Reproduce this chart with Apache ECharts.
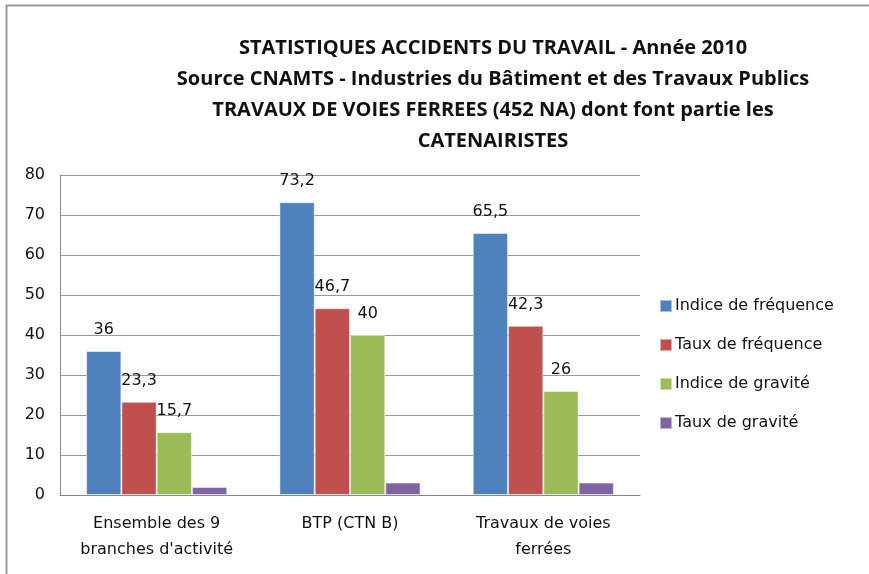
<!DOCTYPE html>
<html>
<head>
<meta charset="utf-8">
<script src="https://cdn.jsdelivr.net/npm/echarts@6/dist/echarts.min.js"></script>
<style>
  html, body { margin: 0; padding: 0; background: #fff; }
  #chart { width: 869px; height: 574px; }
</style>
</head>
<body>
<div id="chart"></div>
<script>
// données
var categories = ['Ensemble des 9\nbranches d\'activité', 'BTP (CTN B)', 'Travaux de voies\nferrées'];
var seriesNames = ['Indice de fréquence', 'Taux de fréquence', 'Indice de gravité', 'Taux de gravité'];
var indiceFrequence = [36, 73.2, 65.5];
var tauxFrequence = [23.3, 46.7, 42.3];
var indiceGravite = [15.7, 40, 26];
var tauxGravite = [2, 3.1, 3.1];
var colors = ['#4F81BD', '#C0504D', '#9BBB59', '#8064A2'];

var titleFont = '"Open Sans", "Liberation Sans", sans-serif';
var bodyFont = '"DejaVu Sans", "Open Sans", sans-serif';

function mkSeries (name, data, color, showLabel) {
  return {
    name: name,
    type: 'bar',
    data: data,
    barGap: '0%',
    barCategoryGap: '27%',
    itemStyle: { color: color, borderColor: 'rgba(255,255,255,0.5)', borderWidth: 1 },
    label: {
      show: showLabel,
      position: 'top',
      distance: 13,
      color: '#111',
      fontSize: 16,
      fontFamily: bodyFont,
      formatter: function (p) { return String(p.value).replace('.', ','); }
    }
  };
}

var chart = echarts.init(document.getElementById('chart'));
chart.setOption({
  backgroundColor: '#fff',
  animation: false,
  color: colors,
  title: {
    text: 'STATISTIQUES ACCIDENTS DU TRAVAIL - Année 2010\nSource CNAMTS - Industries du Bâtiment et des Travaux Publics\nTRAVAUX DE VOIES FERREES (452 NA) dont font partie les\nCATENAIRISTES',
    left: 488,
    textAlign: 'center',
    top: 28,
    textStyle: {
      fontSize: 20,
      fontWeight: 'bold',
      color: '#111',
      lineHeight: 31,
      fontFamily: titleFont
    }
  },
  graphic: [{
    type: 'rect',
    shape: { x: 6.5, y: 5.5, width: 900, height: 600 },
    style: { fill: 'none', stroke: '#999', lineWidth: 2 },
    silent: true
  }],
  legend: {
    orient: 'vertical',
    left: 654,
    top: 293,
    itemWidth: 12,
    itemHeight: 12,
    itemGap: 23,
    icon: 'rect',
    data: seriesNames,
    textStyle: { fontSize: 16, color: '#111', fontFamily: bodyFont, padding: [0, 0, 0, -2] }
  },
  grid: { left: 60, right: 229, top: 175, bottom: 79 },
  xAxis: {
    type: 'category',
    data: categories,
    axisLine: { lineStyle: { color: '#888' } },
    axisTick: { show: false },
    axisLabel: {
      color: '#111',
      fontSize: 16,
      fontFamily: bodyFont,
      lineHeight: 26,
      margin: 16,
      interval: 0
    }
  },
  yAxis: {
    type: 'value',
    min: 0,
    max: 80,
    interval: 10,
    axisLine: { show: true, lineStyle: { color: '#888' } },
    axisTick: { show: false },
    splitLine: { lineStyle: { color: '#999' } },
    axisLabel: { color: '#111', fontSize: 16, fontFamily: bodyFont, margin: 15 }
  },
  series: [
    mkSeries(seriesNames[0], indiceFrequence, colors[0], true),
    mkSeries(seriesNames[1], tauxFrequence, colors[1], true),
    mkSeries(seriesNames[2], indiceGravite, colors[2], true),
    mkSeries(seriesNames[3], tauxGravite, colors[3], false)
  ]
});
</script>
</body>
</html>
